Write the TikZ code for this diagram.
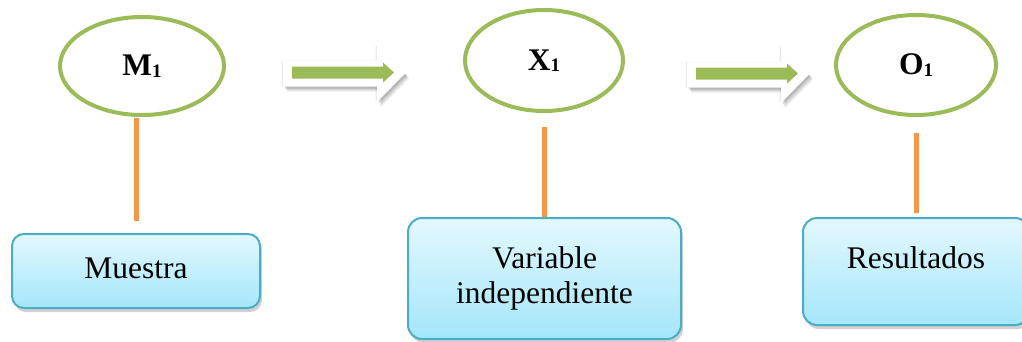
\documentclass[tikz,border=0pt]{standalone}
\usepackage{fontspec}
\setmainfont{Liberation Serif}
\usetikzlibrary{shapes.geometric,shadows}
\definecolor{egreen}{HTML}{9BBB59}
\definecolor{eorange}{HTML}{F79646}
\definecolor{bblue}{HTML}{4BACC6}
\definecolor{btop}{HTML}{E3F8FE}
\definecolor{bbot}{HTML}{A4E6FA}
\begin{document}
\begin{tikzpicture}[x=1pt,y=-1pt,
  ell/.style={ellipse, draw=egreen, line width=4pt, inner sep=0pt,
    font=\fontsize{31.5}{36}\selectfont\bfseries},
  box/.style={rectangle, rounded corners=14pt, draw=bblue, line width=2pt,
    top color=btop, bottom color=bbot, inner sep=0pt, align=center,
    font=\fontsize{31.5}{35}\selectfont,
    drop shadow={shadow xshift=2pt, shadow yshift=-4pt, opacity=0.18, fill=black}},
  link/.style={draw=eorange, line width=5pt},
  arrowpath/.style={insert path={(0,-13) -- (94,-13) -- (94,-28.5) -- (122,0) -- (94,28.5) -- (94,13) -- (0,13) -- cycle}},
  blockarrow/.pic={
    \fill[black, opacity=0.08, shift={(4,5)}] [arrowpath];
    \fill[black, opacity=0.10, shift={(3,3.5)}] [arrowpath];
    \fill[black, opacity=0.13, shift={(1.5,2)}] [arrowpath];
    \fill[black, opacity=0.08, shift={(-1.5,0)}] [arrowpath];
    \fill[white] [arrowpath];
    \fill[egreen] (9,-7) -- (100,-7) -- (100,-11) -- (111,-1) -- (100,9) -- (100,5) -- (9,5) -- cycle;
  },
]
\useasboundingbox (0,0) rectangle (1022,341);
\clip (0,0) rectangle (1022,341);
\fill[white] (0,0) rectangle (1022,341);

% ellipses
\node[ell, minimum width=164pt, minimum height=98pt] (m) at (142,66)
  {M\raisebox{-1.5pt}{\fontsize{19}{19}\selectfont 1}};
\node[ell, minimum width=158pt, minimum height=101pt] (x) at (544,60.5)
  {X\raisebox{-1.5pt}{\fontsize{19}{19}\selectfont 1}};
\node[ell, minimum width=160pt, minimum height=100pt] (o) at (916,65)
  {O\raisebox{-1.5pt}{\fontsize{19}{19}\selectfont 1}};

% block arrows
\coordinate (a1) at (283,73.5);
\coordinate (a2) at (687,74.5);
\pic at (a1) {blockarrow};
\pic at (a2) {blockarrow};

% boxes
\node[box, minimum width=248pt, minimum height=74pt, rounded corners=12pt,
  text height=21pt, text depth=7pt] (mb) at (136,271) {Muestra};
\node[box, minimum width=273pt, minimum height=121pt] (xb) at (544.5,278.5)
  {Variable\\independiente};
\node[box, minimum width=226pt, minimum height=107pt,
  text height=20pt, text depth=27pt] (ob) at (916,271.5) {Resultados};

% links
\draw[link, shorten <=1pt, shorten >=12pt] (m.south -| mb.north) -- (mb.north);
\draw[link, shorten <=14pt] (x.south -| xb.north) -- (xb.north);
\draw[link, shorten <=16pt, shorten >=4pt] (o.south) -- (o.south |- ob.north);
\end{tikzpicture}
\end{document}
